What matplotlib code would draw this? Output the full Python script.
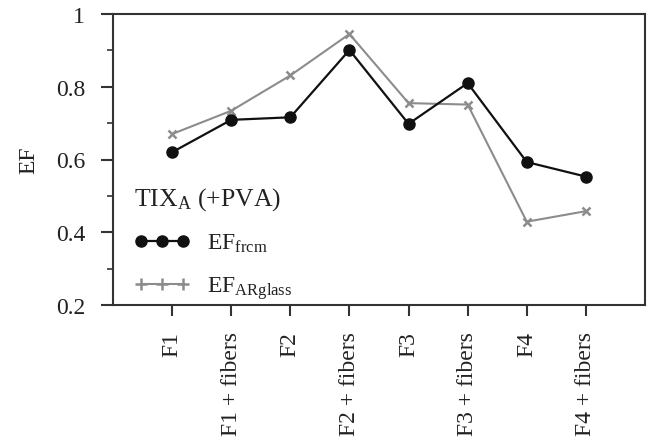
import matplotlib
matplotlib.use("Agg")
import matplotlib.pyplot as plt
from matplotlib.lines import Line2D
from matplotlib.ticker import MultipleLocator

plt.rcParams['font.family'] = ['Liberation Serif', 'DejaVu Serif']
plt.rcParams['mathtext.fontset'] = 'custom'
plt.rcParams['mathtext.rm'] = 'Liberation Serif'
plt.rcParams['mathtext.it'] = 'Liberation Serif:italic'

categories = ["F1", "F1 + fibers", "F2", "F2 + fibers", "F3", "F3 + fibers", "F4", "F4 + fibers"]
ef_frcm = [0.620, 0.709, 0.716, 0.901, 0.698, 0.810, 0.593, 0.553]
ef_arglass = [0.670, 0.734, 0.831, 0.945, 0.755, 0.751, 0.429, 0.458]

fig = plt.figure(figsize=(6.47, 4.39), dpi=100)
ax = fig.add_axes([113/647, 1-306/439, (645-113)/647, (306-15)/439])

x = list(range(len(categories)))
spine_c = '#333333'
txt_c = '#222222'
fs = 17
ax.plot(x, ef_arglass, color='#8c8c8c', lw=1.5, marker='x', ms=6, mew=1.8, zorder=2)
ax.plot(x, ef_frcm, color='#111111', lw=1.6, marker='o', ms=8, zorder=3)

ax.set_xlim(-1, 8)
ax.set_ylim(0.2, 1.0)
ax.set_xticks(x)
ax.set_xticklabels(categories, rotation=90, fontsize=fs, color=txt_c)
ax.yaxis.set_minor_locator(MultipleLocator(0.1))
ax.set_yticks([0.2, 0.4, 0.6, 0.8, 1.0])
ax.set_yticklabels(['0.2', '0.4', '0.6', '0.8', '1'], fontsize=fs, color=txt_c)
ax.set_ylabel('EF', fontsize=fs, color=txt_c, labelpad=12)

for s in ax.spines.values():
    s.set_color(spine_c)
    s.set_linewidth(1.5)
ax.tick_params(axis='y', which='major', direction='out', length=9, width=1.5, color=spine_c, pad=11)
ax.tick_params(axis='x', which='major', direction='out', length=8, width=1.5, color=spine_c, pad=11)
ax.tick_params(axis='y', which='minor', direction='out', length=4.5, width=1.2, color=spine_c)

handles = [
    Line2D([], [], color='#111111', lw=1.6, marker='o', ms=8),
    Line2D([], [], color='#8c8c8c', lw=1.5, marker='+', ms=8, mew=1.8),
]
labels = [r'EF$_{\mathrm{frcm}}$', r'EF$_{\mathrm{ARglass}}$']
leg = ax.legend(handles, labels, title=r'TIX$_{\mathrm{A}}$ (+PVA)', loc='lower left',
                bbox_to_anchor=(0.0, -0.06), frameon=False, numpoints=3,
                handlelength=2.35, labelspacing=0.85, fontsize=fs, title_fontsize=18.5,
                alignment='left', handletextpad=0.75)
for t in leg.get_texts():
    t.set_color(txt_c)
leg.get_title().set_color(txt_c)

fig.savefig('out.png', dpi=100)
